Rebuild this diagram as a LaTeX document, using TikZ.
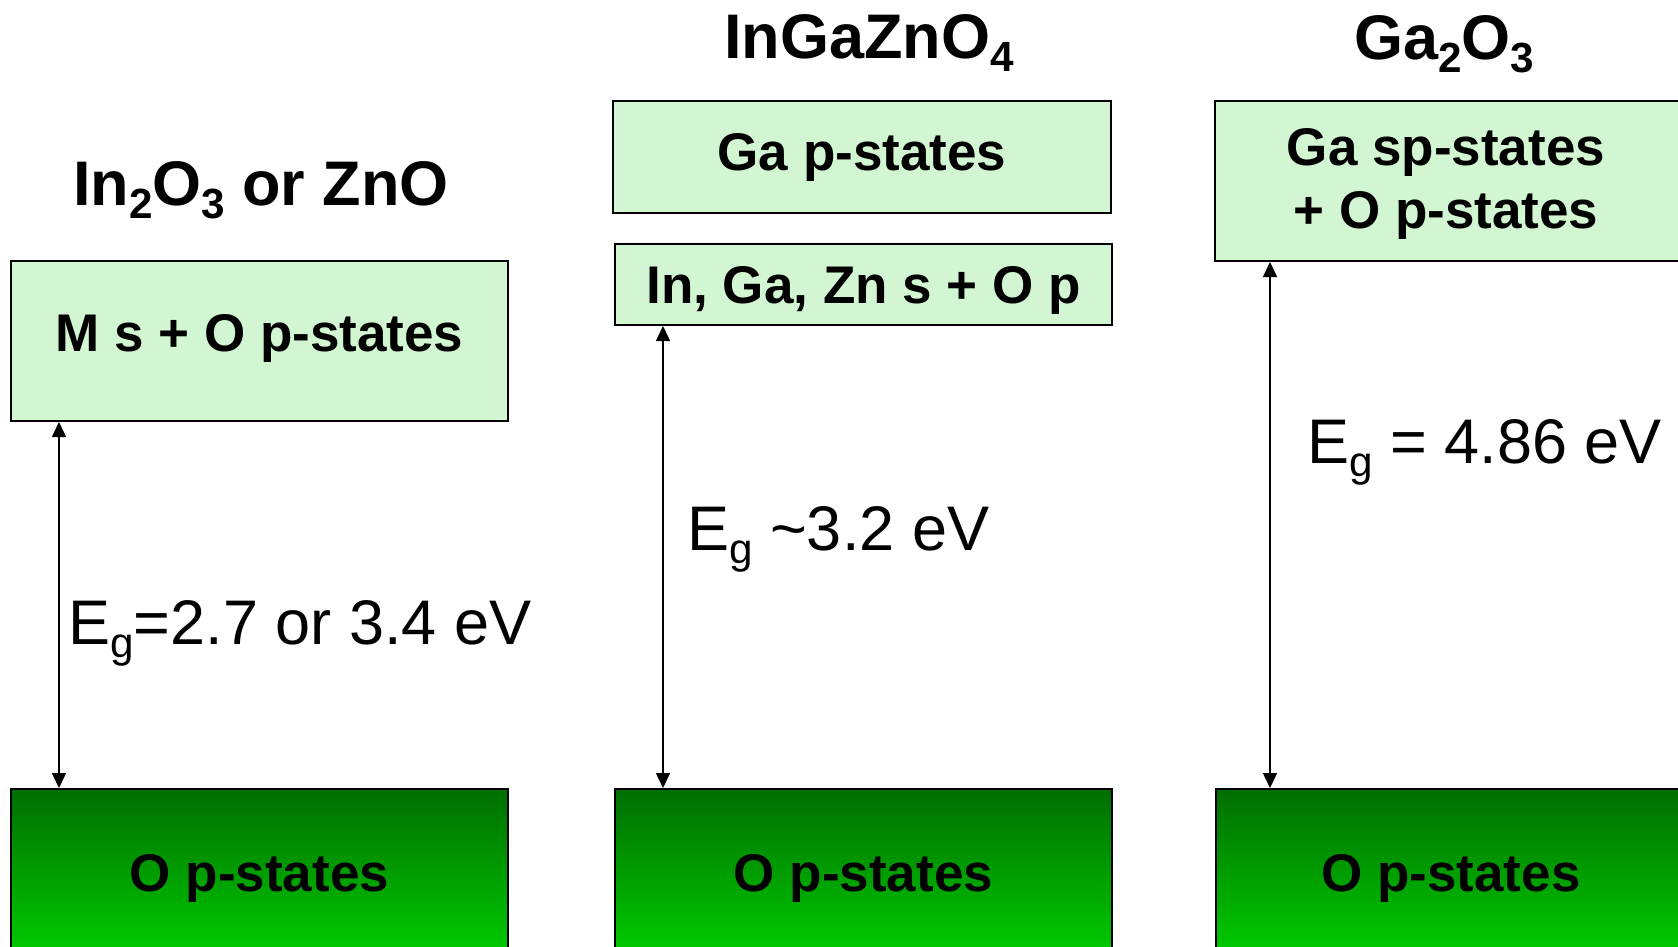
\documentclass[tikz,border=0pt]{standalone}
\usepackage{fontspec}
\setmainfont{Liberation Sans}
\usetikzlibrary{arrows.meta}
\definecolor{cbandfill}{HTML}{D2F5D2}
\definecolor{vbandtop}{HTML}{006E00}
\definecolor{vbandbot}{HTML}{00D200}
\newcommand{\lowidx}[1]{\raisebox{-0.22em}{\scalebox{0.67}{#1}}}
\begin{document}
\begin{tikzpicture}[x=1pt,y=1pt,
  cband/.style={draw=black,line width=2pt,fill=cbandfill,inner sep=0pt,font=\fontsize{53}{63}\selectfont\bfseries},
  vband/.style={draw=black,line width=2pt,top color=vbandtop,bottom color=vbandbot,minimum height=178pt,inner sep=0pt,font=\fontsize{53}{63}\selectfont\bfseries},
  title/.style={anchor=base,inner sep=0pt,font=\fontsize{63}{76}\selectfont\bfseries},
  gaplabel/.style={anchor=base west,inner sep=0pt,font=\fontsize{63}{76}\selectfont},
  gap/.style={line width=1.6pt,{Triangle[width=14pt,length=15pt]}-{Triangle[width=14pt,length=15pt]}}]
\useasboundingbox (0,-946) rectangle (1678,0);
\clip (0,-946) rectangle (1678,0);
\node[title] (tin) at (261,-205) {In\lowidx{2}O\lowidx{3} or ZnO};
\node[title] (tigzo) at (869,-58) {InGaZnO\lowidx{4}};
\node[title] (tga) at (1444,-59) {Ga\lowidx{2}O\lowidx{3}};
\node[cband,minimum width=497pt,minimum height=160pt,text depth=17pt] (cb1) at (259.5,-341) {M s + O p-states};
\node[cband,minimum width=498pt,minimum height=112pt] (gap2) at (862,-157) {Ga p-states};
\node[cband,minimum width=497pt,minimum height=81pt,text depth=0pt] (cb2) at (863.5,-284.5) {In, Ga, Zn s + O p};
\node[cband,minimum width=470pt,minimum height=160pt] (cb3) at (1450,-181) {};
\node[font=\fontsize{53}{63}\selectfont\bfseries,align=center,inner sep=0pt] (cb3txt) at (1446,-184) {Ga sp-states\\+ O p-states};
\node[vband,minimum width=497pt] (vb1) at (259.5,-878) {O p-states};
\node[vband,minimum width=497pt] (vb2) at (863.5,-878) {O p-states};
\node[vband,minimum width=470pt] (vb3) at (1451,-878) {O p-states};
\coordinate (a1) at (59,0);
\coordinate (a2) at (663,0);
\coordinate (a3) at (1270,0);
\draw[gap] (cb1.south -| a1) -- (vb1.north -| a1);
\draw[gap] (cb2.south -| a2) -- (vb2.north -| a2);
\draw[gap] (cb3.south -| a3) -- (vb3.north -| a3);
\node[gaplabel] (eg1) at (68,-644) {E\lowidx{g}=2.7 or 3.4 eV};
\node[gaplabel] (eg2) at (687,-550) {E\lowidx{g} \textasciitilde{}3.2 eV};
\node[gaplabel] (eg3) at (1307,-463) {E\lowidx{g} = 4.86 eV};
\end{tikzpicture}
\end{document}
